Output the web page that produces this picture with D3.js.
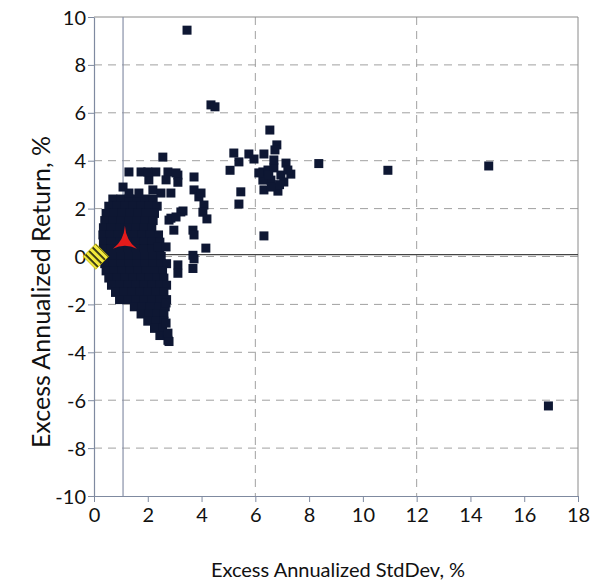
<!DOCTYPE html>
<html><head><meta charset="utf-8">
<script src="https://cdn.jsdelivr.net/npm/d3@7"></script>
<style>
body{margin:0;background:#fff;}
svg{display:block;font-family:"Century Gothic","URW Gothic","Lato","DejaVu Sans",sans-serif;}
</style></head>
<body>
<svg id="chart" width="594" height="584"></svg>
<script>
// ---- data ----
const xTicks = [0,2,4,6,8,10,12,14,16,18];
const yTicks = [-10,-8,-6,-4,-2,0,2,4,6,8,10];
const xGrid = [6,12];
const yGrid = [-8,-6,-4,-2,0,2,4,6,8];
const xTitle = "Excess Annualized StdDev, %";
const yTitle = "Excess Annualized Return, %";

// dense cluster of managers (stddev, return)
const clusterRows = [
  [2.4,[0.7,1.0,1.3,1.6,1.9,2.2]],
  [2.1,[0.55,0.85,1.15,1.45,1.75,2.05,2.35]],
  [1.8,[0.45,0.75,1.05,1.35,1.65,1.95,2.25]],
  [1.5,[0.4,0.7,1.0,1.3,1.6,1.9,2.2]],
  [1.2,[0.35,0.65,0.95,1.25,1.55,1.85,2.15]],
  [0.9,[0.33,0.6,0.9,1.2,1.5,1.8,2.1,2.4]],
  [0.6,[0.35,0.65,0.95,1.25,1.55,1.85,2.15,2.45]],
  [0.3,[0.35,0.65,0.95,1.25,1.55,1.85,2.15,2.45]],
  [0.0,[0.4,0.7,1.0,1.3,1.6,1.9,2.2,2.5]],
  [-0.3,[0.4,0.7,1.0,1.3,1.6,1.9,2.2,2.5,2.7]],
  [-0.6,[0.45,0.75,1.05,1.35,1.65,1.95,2.25,2.55]],
  [-0.9,[0.55,0.85,1.15,1.45,1.75,2.05,2.35,2.6]],
  [-1.2,[0.65,0.95,1.25,1.55,1.85,2.15,2.45,2.7]],
  [-1.5,[0.8,1.1,1.4,1.7,2.0,2.3,2.6]],
  [-1.8,[0.95,1.25,1.55,1.85,2.15,2.45,2.7]],
  [-2.1,[1.5,1.8,2.1,2.4,2.65]],
  [-2.4,[1.75,2.05,2.35,2.6]],
  [-2.7,[2.0,2.3,2.6]],
  [-3.0,[2.25,2.55]],
  [-3.3,[2.45,2.7]],
  [-3.5,[2.75]]
];
const scatterPoints = [
  [3.46,9.45],[4.35,6.33],[4.5,6.25],[6.54,5.28],[6.8,4.66],[6.73,4.45],[6.32,4.28],
  [5.2,4.32],[5.39,3.95],[5.76,4.28],[5.95,4.07],[5.06,3.6],[5.46,2.7],[5.39,2.19],
  [6.32,0.86],[8.36,3.88],[10.93,3.6],[14.68,3.78],[16.9,-6.24],
  [6.28,3.53],[6.47,3.61],[6.69,3.7],[7.14,3.9],[7.32,3.44],[6.95,3.4],[6.32,2.78],
  [6.84,2.73],[6.58,3.19],[6.28,3.19],[7.06,3.11],[6.69,4.03],[6.13,3.49],[7.21,3.61],
  [6.5,3.4],[6.9,3.0],[6.6,2.9],
  [2.56,4.15],[1.3,3.53],[1.75,3.53],[2.04,3.2],[2.75,3.53],[3.12,3.4],[3.12,3.1],
  [3.72,3.32],[1.08,2.9],[1.3,2.65],[1.67,2.65],[2.19,2.78],[2.49,2.65],[2.86,2.65],
  [3.72,2.78],[3.9,2.49],[4.09,2.15],[4.05,1.85],[4.2,1.57],[3.31,1.9],[2.86,1.6],
  [3.23,1.86],[2.97,1.1],[3.68,1.1],[3.72,0.9],[4.16,0.35],[3.68,0.05],[3.72,-0.1],
  [3.68,-0.5],[3.12,-0.35],[3.12,-0.7],[2.68,-1.94],[2.68,-2.78],[2.75,-3.2],
  [2.79,-3.55],[2.38,0.4],[2.68,0.4],[2.79,1.52],[3.05,1.65],[2.68,3.2],[3.05,3.49],
  [3.98,2.65],[2.3,3.53],[2.0,3.53]
];
const benchmark = [1.15, 0.7];      // red marker
const riskFree = [0.07, 0.0];       // yellow marker
const refLineX = 1.08;              // vertical reference line
const refLineY = 0.08;              // horizontal reference line

// ---- chart ----
const svg = d3.select("#chart");
const L=94, R=578, T=17, B=496;
const x = d3.scaleLinear().domain([0,18]).range([L,R]);
const y = d3.scaleLinear().domain([-10,10]).range([B,T]);

// grid
svg.append("g").selectAll("line").data(yGrid).join("line")
  .attr("x1",L).attr("x2",R).attr("y1",d=>y(d)).attr("y2",d=>y(d))
  .attr("stroke","#a0a0a0").attr("stroke-width",1).attr("stroke-dasharray","8,6");
svg.append("g").selectAll("line").data(xGrid).join("line")
  .attr("x1",d=>x(d)).attr("x2",d=>x(d)).attr("y1",T).attr("y2",B)
  .attr("stroke","#a0a0a0").attr("stroke-width",1).attr("stroke-dasharray","8,6");

// frame top/right
svg.append("line").attr("x1",L).attr("x2",R).attr("y1",T).attr("y2",T).attr("stroke","#8a8a8a");
svg.append("line").attr("x1",R).attr("x2",R).attr("y1",T).attr("y2",B).attr("stroke","#8a8a8a");

// reference lines
svg.append("line").attr("x1",x(refLineX)).attr("x2",x(refLineX)).attr("y1",T).attr("y2",B)
  .attr("stroke","#8890a8").attr("stroke-width",1.2);
svg.append("line").attr("x1",L).attr("x2",R).attr("y1",y(refLineY)).attr("y2",y(refLineY))
  .attr("stroke","#444").attr("stroke-width",1.2);

// axes
const fmt = d => String(d);
const xAxis = svg.append("g").attr("transform",`translate(0,${B})`)
  .call(d3.axisBottom(x).tickValues(xTicks).tickFormat(fmt).tickSize(6).tickSizeOuter(0).tickPadding(3));
const yAxis = svg.append("g").attr("transform",`translate(${L},0)`)
  .call(d3.axisLeft(y).tickValues(yTicks).tickFormat(fmt).tickSize(6).tickSizeOuter(0).tickPadding(2));
[xAxis,yAxis].forEach(g=>{
  g.select(".domain").attr("stroke","#7f8aa0").attr("stroke-width",1.2);
  g.selectAll(".tick line").attr("stroke","#7f8aa0");
  g.selectAll("text").attr("fill","#111").style("font-size","20px")
    .style("font-family",'"Century Gothic","URW Gothic","Lato",sans-serif');
});
xAxis.selectAll("text").attr("dy","0.85em");
yAxis.selectAll("text").attr("dy","0.35em");

// points
const pts = [];
clusterRows.forEach(([yy,xs])=>xs.forEach(xx=>pts.push([xx,yy])));
scatterPoints.forEach(p=>pts.push(p));
const s = 9;
svg.append("g").selectAll("rect").data(pts).join("rect")
  .attr("x",d=>x(d[0])-s/2).attr("y",d=>y(d[1])-s/2)
  .attr("width",s).attr("height",s).attr("fill","#0e1733");

// benchmark red arrowhead
svg.append("path")
  .attr("transform",`translate(${x(benchmark[0])},${y(benchmark[1])})`)
  .attr("d","M0,-14 Q1,1 12,9 Q0,3 -12,9 Q-1,1 0,-14 Z")
  .attr("fill","#e31b1b");

// risk-free yellow hatched diamond
const defs = svg.append("defs");
const pat = defs.append("pattern").attr("id","hatch").attr("patternUnits","userSpaceOnUse")
  .attr("width",5).attr("height",5);
pat.append("rect").attr("width",5).attr("height",5).attr("fill","#f4ea3c");
pat.append("rect").attr("width",5).attr("height",1.8).attr("fill","#2a2a10");
svg.append("rect")
  .attr("transform",`translate(${x(riskFree[0])},${y(riskFree[1])}) rotate(45)`)
  .attr("x",-9).attr("y",-9).attr("width",18).attr("height",18)
  .attr("fill","url(#hatch)").attr("stroke","#c8b800").attr("stroke-width",0.8);

// titles
svg.append("text").attr("x",338).attr("y",577).attr("text-anchor","middle")
  .style("font-size","20px").attr("fill","#111").text(xTitle);
svg.append("text").attr("transform","translate(50,292) rotate(-90)").attr("text-anchor","middle")
  .style("font-size","25px").attr("fill","#111").text(yTitle);
</script>
</body></html>
